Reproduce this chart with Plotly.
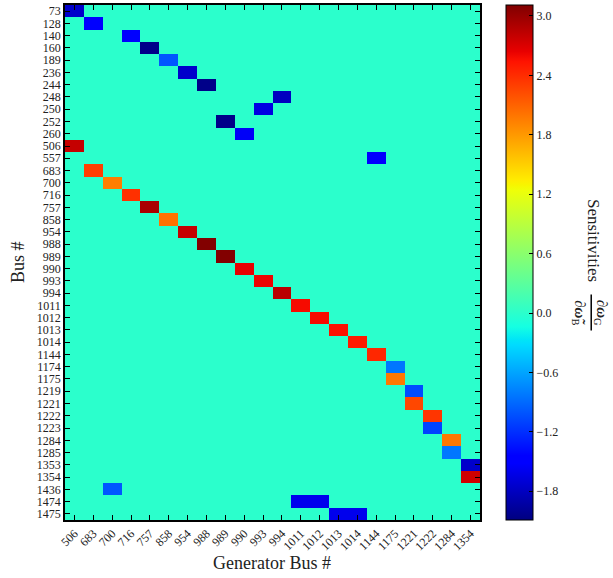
import numpy as np
import plotly.graph_objects as go

bus_labels = ["73", "128", "140", "160", "189", "236", "244", "248", "250", "252", "260",
              "506", "557", "683", "700", "716", "757", "858", "954", "988", "989", "990",
              "993", "994", "1011", "1012", "1013", "1014", "1144", "1174", "1175", "1219",
              "1221", "1222", "1223", "1284", "1285", "1353", "1354", "1436", "1474", "1475"]
gen_labels = ["506", "683", "700", "716", "757", "858", "954", "988", "989", "990", "993",
              "994", "1011", "1012", "1013", "1014", "1144", "1175", "1221", "1222", "1284", "1354"]

# non-zero sensitivities (bus, generator bus, value)
cell_bus = ["73", "128", "140", "160", "189", "236", "244", "248", "250", "252", "260",
            "506", "557", "683", "700", "716", "757", "858", "954", "988", "989", "990",
            "993", "994", "1011", "1012", "1013", "1014", "1144", "1174", "1175", "1219",
            "1221", "1222", "1223", "1284", "1285", "1353", "1354", "1436", "1474", "1474",
            "1475", "1475"]
cell_gen = ["506", "683", "716", "757", "858", "954", "988", "994", "993", "989", "990",
            "506", "1144", "683", "700", "716", "757", "858", "954", "988", "989", "990",
            "993", "994", "1011", "1012", "1013", "1014", "1144", "1175", "1175", "1221",
            "1221", "1222", "1222", "1284", "1284", "1354", "1354", "700", "1011", "1012",
            "1013", "1014"]
cell_val = [-1.75, -1.45, -1.45, -2.05, -1.0, -1.75, -2.05, -1.8, -1.65, -2.05, -1.55,
            2.8, -1.5, 2.3, 1.95, 2.38, 2.92, 2.02, 2.8, 3.1, 3.1, 2.65,
            2.62, 2.85, 2.58, 2.58, 2.55, 2.5, 2.43, -0.83, 1.98, -1.05,
            2.25, 2.35, -1.1, 1.98, -0.83, -1.75, 2.75, -1.0, -1.6, -1.6,
            -1.6, -1.6]

z = np.zeros((len(bus_labels), len(gen_labels)))
for b, g, v in zip(cell_bus, cell_gen, cell_val):
    z[bus_labels.index(b), gen_labels.index(g)] = v

# matplotlib "jet" colormap
red = [(0, 0), (0.35, 0), (0.66, 1), (0.89, 1), (1, 0.5)]
green = [(0, 0), (0.125, 0), (0.375, 1), (0.64, 1), (0.91, 0), (1, 0)]
blue = [(0, 0.5), (0.11, 1), (0.34, 1), (0.65, 0), (1, 0)]
pts = sorted(set([p for p, _ in red + green + blue]))
def interp(seg, t):
    xs, ys = zip(*seg)
    return float(np.interp(t, xs, ys))
jet = [[t, "rgb(%d,%d,%d)" % (round(255 * interp(red, t)), round(255 * interp(green, t)),
                               round(255 * interp(blue, t)))] for t in pts]

cb_ticks = [-1.8, -1.2, -0.6, 0.0, 0.6, 1.2, 1.8, 2.4, 3.0]
cb_text = [("%.1f" % v).replace("-", "\u2212") for v in cb_ticks]

font = "Liberation Serif, DejaVu Serif, serif"
txt = "#222"
fig = go.Figure(go.Heatmap(
    z=z, x=gen_labels, y=bus_labels, colorscale=jet, zmin=-2.09, zmax=3.11,
    colorbar=dict(thickness=27, len=1, lenmode="fraction", y=0, yanchor="bottom",
                  x=1.0627, xanchor="left", xpad=0, ypad=0,
                  outlinecolor="black", outlinewidth=1,
                  tickmode="array", tickvals=cb_ticks, ticktext=cb_text, ticks="inside", ticklen=4,
                  tickcolor="black", tickfont=dict(family=font, size=12, color=txt)),
))

axis_common = dict(type="category", showline=True, linecolor="black", linewidth=1.5,
                   mirror="ticks", ticks="inside", ticklen=5, tickcolor="black", automargin=False,
                   showgrid=False, zeroline=False, tickfont=dict(family=font, size=12, color=txt))
fig.update_xaxes(**axis_common, tickangle=-45, tickmode="array", tickvals=gen_labels, ticktext=gen_labels)
fig.update_yaxes(**axis_common, autorange="reversed", tickmode="array", tickvals=bus_labels, ticktext=bus_labels)

def note(x, y, text, angle=0, size=18):
    fig.add_annotation(xref="paper", yref="paper", x=x, y=y, text=text, textangle=angle,
                       xanchor="center", yanchor="middle", showarrow=False,
                       font=dict(family=font, size=size, color=txt))

# axis titles
note(0.499, -0.0835, "Generator Bus #")
note(-0.113, 0.501, "Bus #", angle=-90)

# colorbar label
note(1.272, 0.542, "Sensitivities", angle=90, size=17)
note(1.292, 0.402, "\u2202<b><i>\u03c9</i></b><sub>G</sub>", angle=90, size=15)
note(1.238, 0.402, "\u2202<b><i>\u03c9\u0303</i></b><sub>B</sub>", angle=90, size=15)
fig.add_shape(type="line", xref="paper", yref="paper", x0=1.268, x1=1.268, y0=0.368, y1=0.438,
              line=dict(color="black", width=1.5))

fig.update_layout(width=613, height=578, margin=dict(l=65, r=133, t=5, b=58),
                  plot_bgcolor="white", paper_bgcolor="white",
                  font=dict(family=font, color=txt))
fig.write_html("out.html", config={"displayModeBar": False},
               post_script="document.body.style.margin='0';")
